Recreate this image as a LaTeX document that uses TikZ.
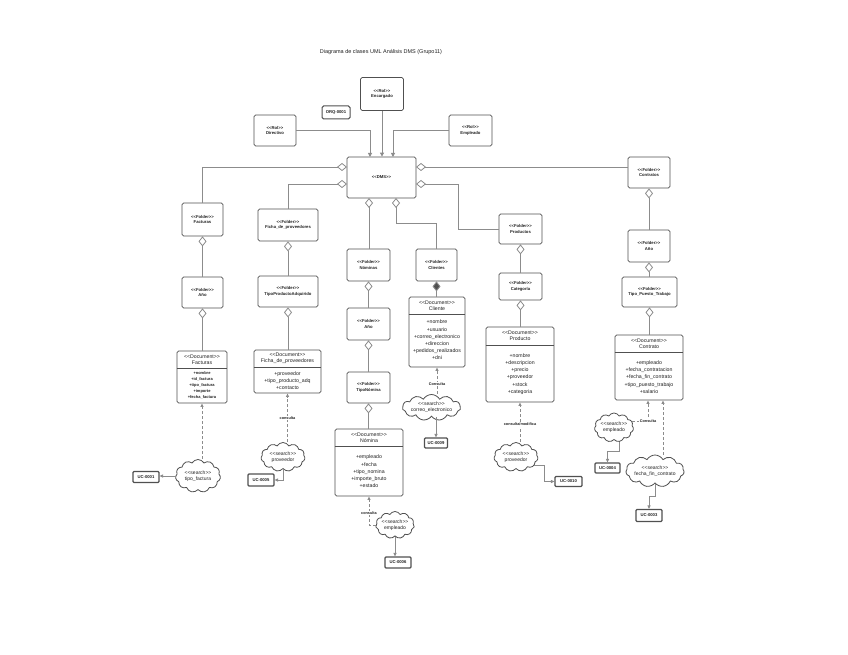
\documentclass[tikz,border=0pt]{standalone}
\usepackage{fontspec}
\setmainfont{Liberation Sans}
\usetikzlibrary{arrows.meta,shapes.symbols,calc}
\definecolor{linec}{HTML}{8C8C8C}
\definecolor{boxc}{HTML}{505050}
\definecolor{txtc}{HTML}{222222}
\newcommand{\stereo}[1]{<\kern0pt<#1>\kern0pt>}
\begin{document}
\begin{tikzpicture}[x=1pt,y=-1pt,
 box/.style={draw=boxc, line width=0.8pt, rounded corners=1.6pt, fill=white, inner sep=0pt, align=center, text=txtc},
 fold/.style={box, font=\fontsize{4.2}{5.6}\selectfont\bfseries},
 hdr/.style={inner sep=0pt, align=center, text=txtc, font=\fontsize{5.2}{6.2}\selectfont},
 attr/.style={inner sep=0pt, align=center, text=txtc, font=\fontsize{5.2}{7.2}\selectfont},
 uc/.style={box, line width=1.1pt, rounded corners=1pt, font=\fontsize{4.2}{4.5}\selectfont\bfseries},
 srch/.style={cloud, cloud puffs=11, cloud puff arc=120, cloud ignores aspect, draw=boxc, line width=0.8pt, fill=white, inner sep=0pt, align=center, text=txtc, font=\fontsize{5}{6}\selectfont},
 conn/.style={draw=linec, line width=0.9pt},
 agg/.style={conn, {Diamond[open, length=10pt, width=8pt, line width=0.8pt]}-},
 comp/.style={conn, {Diamond[length=10pt, width=8pt, fill=boxc]}-},
 gen/.style={conn, -{Triangle[length=4pt, width=4pt, fill=linec]}},
 dep/.style={conn, dash pattern=on 3pt off 2pt, -{Triangle[length=3.5pt, width=3pt]}},
 tipc/.style={conn, -{Triangle[length=3.5pt, width=3pt]}},
 lbl/.style={fill=white, inner sep=0.6pt, text=txtc, font=\fontsize{3.8}{4}\selectfont\bfseries}
]
\fill[white] (0,0) rectangle (848,655);
\useasboundingbox (0,0) rectangle (848,655);

% title
\node[inner sep=0pt, text=txtc, font=\fontsize{5.5}{6}\selectfont] (title) at (381,52) {Diagrama de clases UML Análisis DMS (Grupo11)};

% top
\node[fold, minimum width=43pt, minimum height=33pt] (encargado) at (382,94) {\stereo{Rol}\\Encargado};
\node[box, line width=1pt, minimum width=28pt, minimum height=13pt, font=\fontsize{4.2}{4.5}\selectfont\bfseries] (orq) at (336,112.5) {ORQ-0001};
\node[fold, minimum width=42pt, minimum height=31pt] (directivo) at (275,130.5) {\stereo{Rol}\\Directivo};
\node[fold, minimum width=43pt, minimum height=31pt] (empleado) at (470.5,130.5) {\stereo{Rol}\\Empleado};
\node[fold, minimum width=69pt, minimum height=41pt] (dms) at (381.5,177.5) {\stereo{DMS}};

\coordinate (dmsT1) at (370,157);
\coordinate (dmsT3) at (393,157);
\coordinate (dmsL1) at (347,167);
\coordinate (dmsL2) at (347,184);
\coordinate (dmsR1) at (416,167);
\coordinate (dmsR2) at (416,184);
\coordinate (dmsB1) at (369,198);
\coordinate (dmsB2) at (396,198);

\draw[gen] (directivo.east) -| (dmsT1);
\draw[gen] (encargado.south) -- (encargado.south |- dms.north);
\draw[gen] (empleado.west) -| (dmsT3);

% Facturas column
\node[fold, minimum width=41pt, minimum height=33pt] (facturas) at (202.5,219.5) {\stereo{Folder}\\Facturas};
\node[fold, minimum width=41pt, minimum height=31pt] (anioF) at (202.5,292.5) {\stereo{Folder}\\Año};
\node[box, minimum width=50pt, minimum height=52pt] (fdoc) at (202,377) {};
\draw[boxc, line width=0.6pt] ($(fdoc.north west)+(0,18)$) -- ($(fdoc.north east)+(0,18)$);
\node[hdr] (fdoch) at ($(fdoc.north)+(0,9)$) {\stereo{Document}\\Facturas};
\node[attr, font=\fontsize{4}{6}\selectfont\bfseries] (fdoca) at (202,385) {+nombre\\+id\_factura\\+tipo\_factura\\+importe\\+fecha\_factura};
\node[srch, minimum width=45pt, minimum height=33pt] (srchF) at (198,476) {\stereo{search}\\tipo\_factura};
\node[uc, minimum width=26pt, minimum height=11pt] (ucF) at (146,477) {UC-0001};

\draw[agg] (dmsL1) -| (facturas.north);
\draw[agg] (facturas.south) -- (anioF.north);
\draw[agg] (anioF.south) -- (anioF.south |- fdoc.north);
\draw[dep] (srchF.north -| fdoc.south) -- (fdoc.south);
\draw[tipc] (srchF.west) -- (srchF.west -| ucF.east);

% Ficha column
\node[fold, minimum width=60pt, minimum height=32pt] (ficha) at (288,225) {\stereo{Folder}\\Ficha\_de\_proveedores};
\node[fold, minimum width=60pt, minimum height=31pt] (tipoprod) at (288,291.5) {\stereo{Folder}\\TipoProductoAdquirido};
\node[box, minimum width=67pt, minimum height=43pt] (fidoc) at (287.5,371.5) {};
\draw[boxc, line width=0.6pt] ($(fidoc.north west)+(0,18)$) -- ($(fidoc.north east)+(0,18)$);
\node[hdr] (fidoch) at ($(fidoc.north)+(0,9)$) {\stereo{Document}\\Ficha\_de\_proveedores};
\node[attr] (fidoca) at (287.5,380.5) {+proveedor\\+tipo\_producto\_adq\\+contacto};
\node[srch, minimum width=44pt, minimum height=29pt] (srchFi) at (283,457) {\stereo{search}\\proveedor};
\node[uc, minimum width=26pt, minimum height=12pt] (ucFi) at (261,480) {UC-0005};

\draw[agg] (dmsL2) -| (ficha.north);
\draw[agg] (ficha.south) -- (tipoprod.north);
\draw[agg] (tipoprod.south) -- (tipoprod.south |- fidoc.north);
\draw[dep] (srchFi.north -| fidoc.south) -- node[lbl, pos=0.5] {consulta} (fidoc.south);
\draw[tipc] (srchFi.south) |- (ucFi.east);

% Nominas column
\node[fold, minimum width=43pt, minimum height=32pt] (nominas) at (368.5,265) {\stereo{Folder}\\Nóminas};
\node[fold, minimum width=43pt, minimum height=32pt] (anioN) at (368.5,324) {\stereo{Folder}\\Año};
\node[fold, minimum width=43pt, minimum height=31pt] (tiponom) at (368.5,387.5) {\stereo{Folder}\\TipoNómina};
\node[box, minimum width=68pt, minimum height=67pt] (ndoc) at (369,462.5) {};
\draw[boxc, line width=0.6pt] ($(ndoc.north west)+(0,18)$) -- ($(ndoc.north east)+(0,18)$);
\node[hdr] (ndoch) at ($(ndoc.north)+(0,9)$) {\stereo{Document}\\Nómina};
\node[attr] (ndoca) at (369,471.5) {+empleado\\+fecha\\+tipo\_nomina\\+importe\_bruto\\+estado};
\node[srch, minimum width=38pt, minimum height=27pt] (srchN) at (395,525) {\stereo{search}\\empleado};
\node[uc, minimum width=26pt, minimum height=11pt] (ucN) at (398,562.5) {UC-0006};

\draw[agg] (dmsB1) -- (dmsB1 |- nominas.north);
\draw[agg] (nominas.south) -- (anioN.north);
\draw[agg] (anioN.south) -- (tiponom.north);
\draw[agg] (tiponom.south) -- (tiponom.south |- ndoc.north);
\draw[dep] (srchN.west) -| node[lbl, pos=0.71] {consulta} (ndoc.south);
\draw[tipc] (srchN.south) -- (srchN.south |- ucN.north);

% Clientes column
\node[fold, minimum width=41pt, minimum height=32pt] (clientes) at (436.5,265) {\stereo{Folder}\\Clientes};
\node[box, minimum width=56pt, minimum height=70pt] (cdoc) at (437,332) {};
\draw[boxc, line width=0.6pt] ($(cdoc.north west)+(0,18)$) -- ($(cdoc.north east)+(0,18)$);
\node[hdr] (cdoch) at ($(cdoc.north)+(0,9)$) {\stereo{Document}\\Cliente};
\node[attr] (cdoca) at (437,340) {+nombre\\+usuario\\+correo\_electronico\\+direccion\\+pedidos\_realizados\\+dni};
\node[srch, minimum width=58pt, minimum height=26pt] (srchC) at (431.5,407.5) {\stereo{search}\\correo\_electronico};
\node[uc, minimum width=23pt, minimum height=10pt] (ucC) at (436,443) {UC-0009};

\coordinate (cbend) at (396,223);
\draw[agg] (dmsB2) -- (cbend) -| (clientes.north);
\draw[comp] (clientes.south) -- (clientes.south |- cdoc.north);
\draw[dep] (srchC.north -| cdoc.south) -- node[lbl, pos=0.36] {Consulta} (cdoc.south);
\draw[tipc] (srchC.south -| ucC.north) -- (ucC.north);

% Productos column
\node[fold, minimum width=43pt, minimum height=30pt] (productos) at (520.5,229) {\stereo{Folder}\\Productos};
\node[fold, minimum width=43pt, minimum height=27pt] (categoria) at (520.5,286.5) {\stereo{Folder}\\Categoría};
\node[box, minimum width=68pt, minimum height=75pt] (prdoc) at (520,364.5) {};
\draw[boxc, line width=0.6pt] ($(prdoc.north west)+(0,19)$) -- ($(prdoc.north east)+(0,19)$);
\node[hdr] (prdoch) at ($(prdoc.north)+(0,9.5)$) {\stereo{Document}\\Producto};
\node[attr] (prdoca) at (520,374) {+nombre\\+descripcion\\+precio\\+proveedor\\+stock\\+categoria};
\node[srch, minimum width=44pt, minimum height=29pt] (srchPr) at (516,457) {\stereo{search}\\proveedor};
\node[uc, minimum width=27pt, minimum height=10pt] (ucPr) at (568.5,481.5) {UC-0010};

\coordinate (pbend) at (458,184);
\draw[agg] (dmsR2) -- (pbend) |- (productos.west);
\draw[agg] (productos.south) -- (categoria.north);
\draw[agg] (categoria.south) -- (categoria.south |- prdoc.north);
\draw[dep] (srchPr.north -| prdoc.south) -- node[lbl, pos=0.44] {consulta/modifica} (prdoc.south);
\draw[tipc] (srchPr.-25) -- ++(10,0) |- (ucPr.west);

% Contratos column
\node[fold, minimum width=42pt, minimum height=31pt] (contratos) at (649,172.5) {\stereo{Folder}\\Contratos};
\node[fold, minimum width=42pt, minimum height=32pt] (anioC) at (649,246) {\stereo{Folder}\\Año};
\node[fold, minimum width=55pt, minimum height=30pt] (tipopuesto) at (649.5,292) {\stereo{Folder}\\Tipo\_Puesto\_Trabajo};
\node[box, minimum width=68pt, minimum height=65pt] (ctdoc) at (649,367.5) {};
\draw[boxc, line width=0.6pt] ($(ctdoc.north west)+(0,18)$) -- ($(ctdoc.north east)+(0,18)$);
\node[hdr] (ctdoch) at ($(ctdoc.north)+(0,9)$) {\stereo{Document}\\Contrato};
\node[attr] (ctdoca) at (649,377) {+empleado\\+fecha\_contratacion\\+fecha\_fin\_contrato\\+tipo\_puesto\_trabajo\\+salario};
\node[srch, minimum width=39pt, minimum height=29pt] (srchCt1) at (614,427.5) {\stereo{search}\\empleado};
\node[uc, minimum width=25pt, minimum height=10pt] (ucCt1) at (607.5,468) {UC-0004};
\node[srch, minimum width=46pt, minimum height=32pt] (srchCt2) at (655,471) {\stereo{search}\\fecha\_fin\_contrato};
\node[uc, minimum width=26pt, minimum height=12pt] (ucCt2) at (649,515.5) {UC-0003};

\coordinate (ctx1) at ($(ctdoc.south)+(-1,0)$);
\coordinate (ctx2) at ($(ctdoc.south)+(14,0)$);
\draw[agg] (dmsR1) -- (dmsR1 -| contratos.west);
\draw[agg] (contratos.south) -- (anioC.north);
\draw[agg] (anioC.south) -- (anioC.south |- tipopuesto.north);
\draw[agg] (tipopuesto.south) -- (tipopuesto.south |- ctdoc.north);
\draw[dep] (srchCt1.20) -| node[lbl, pos=0.5] {Consulta} (ctx1);
\draw[dep] (srchCt2.north -| ctx2) -- (ctx2);
\draw[tipc] (srchCt1.-70) -- ++(0,10) -| (ucCt1.north);
\draw[tipc] (srchCt2.south) -- ++(0,13) -| (ucCt2.north);
\end{tikzpicture}
\end{document}
